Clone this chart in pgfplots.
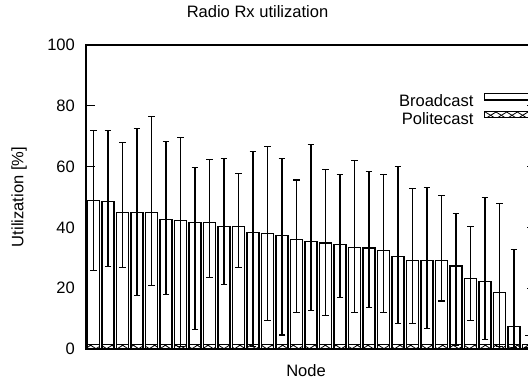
\documentclass[border=0pt]{standalone}
\usepackage{fontspec}
\setmainfont{Liberation Sans}
\usepackage{pgfplots}
\pgfplotsset{compat=1.18}
\usepackage{pgfplotstable}
\usetikzlibrary{patterns}
\newcommand\myfont{\fontsize{12.4pt}{14pt}\selectfont}
\pgfdeclarepatternformonly{diagcross}{\pgfqpoint{-0.5pt}{-0.5pt}}{\pgfqpoint{8.5pt}{5.5pt}}{\pgfqpoint{8pt}{5pt}}{%
 \pgfsetlinewidth{0.6pt}%
 \pgfpathmoveto{\pgfqpoint{0pt}{0pt}}\pgfpathlineto{\pgfqpoint{8pt}{5pt}}%
 \pgfpathmoveto{\pgfqpoint{0pt}{5pt}}\pgfpathlineto{\pgfqpoint{8pt}{0pt}}%
 \pgfusepath{stroke}}

\pgfplotstableread{
x y ep em
1 48.9 22.9 23.0
2 48.5 23.3 21.5
3 45.0 22.8 18.3
4 44.8 27.8 27.3
5 44.8 31.6 23.8
6 42.6 25.7 24.6
7 42.3 27.3 41.5
8 41.7 17.9 35.3
9 41.5 20.7 18.1
10 40.4 22.4 19.3
11 40.4 17.2 13.7
12 38.3 26.6 37.5
13 37.9 28.7 28.6
14 37.4 25.3 32.8
15 36.1 19.5 24.2
16 35.4 31.8 22.6
17 34.9 24.1 24.0
18 34.4 22.9 17.5
19 33.5 28.5 21.6
20 33.2 25.3 19.5
21 32.5 24.8 20.6
22 30.3 29.7 21.9
23 29.2 23.5 20.8
24 29.0 24.2 22.4
25 29.0 21.5 13.2
26 27.3 17.2 26.3
27 23.2 17.2 13.7
28 22.3 27.4 19.3
29 18.6 29.2 17.8
30 7.3 25.4 6.8
31 1.5 3.0 1.0
}\broadcast

\pgfplotstableread{
x y
1 1.5
2 1.5
3 1.5
4 1.5
5 1.5
6 1.5
7 1.5
8 1.5
9 1.5
10 1.5
11 1.5
12 1.5
13 1.5
14 1.5
15 1.5
16 1.5
17 1.5
18 1.5
19 1.5
20 1.5
21 1.5
22 1.5
23 1.5
24 1.5
25 1.5
26 1.5
27 1.5
28 1.5
29 1.5
30 1.5
31 1.5
}\politecast

\begin{document}
\begin{tikzpicture}
\useasboundingbox (0,0) rectangle (396pt,286.5pt);
\clip (0,0) rectangle (396pt,286.5pt);
\begin{axis}[
  at={(64.69pt,24.75pt)}, anchor=south west,
  scale only axis, width=337.125pt, height=228pt,
  xmin=0.5, xmax=31.5, ymin=0, ymax=100,
  ytick={0,20,...,100}, xtick=\empty,
  tick align=inside, major tick length=6.5pt,
  tick style={line width=0.8pt, black},
  axis line style={line width=1.2pt},
  /pgf/number format/assume math mode=true,
  tick label style={font=\myfont},
  yticklabel style={xshift=-5pt},
  label style={font=\myfont},
  title style={font=\myfont, at={(axis description cs:0.381,1.084)}, anchor=center},
  title={Radio Rx utilization},
  xlabel={Node},
  xlabel style={at={(axis description cs:0.489,-0.0707)}, anchor=center},
  ylabel={Utilization [\%]},
  ylabel style={at={(axis description cs:-0.1496,0.5)}, anchor=center, rotate=0},
  legend plot pos=right,
  legend cell align=right,
  legend style={at={(axis description cs:0.9894,0.844)}, anchor=north east,
    draw=none, fill=none, font=\myfont, inner sep=0pt, row sep=0pt,
    /tikz/column sep=8pt,
    nodes={inner sep=0pt, text height=9pt, text depth=3pt}},
]
\addplot[ybar, bar width=0.83, bar shift=0pt, draw=black, fill=white, line width=0.9pt,
  error bars/.cd, y dir=both, y explicit,
  error bar style={line width=0.8pt, black},
  error mark options={rotate=90, mark size=2.6pt, line width=0.8pt, black},
  /pgfplots/legend image code/.code={\draw[fill=white,draw=black,line width=0.9pt] (0pt,2pt) rectangle (34pt,7pt);}]
  table[x=x, y=y, y error plus=ep, y error minus=em]{\broadcast};
\addlegendentry{Broadcast}
\addplot[ybar, bar width=0.83, bar shift=0pt, draw=black, pattern=diagcross, line width=0.6pt,
  legend image code/.code={\draw[pattern=diagcross,draw=black,line width=0.9pt] (0pt,2pt) rectangle (34pt,7pt);}]
  table[x=x, y=y]{\politecast};
\addlegendentry{Politecast}
\end{axis}
\end{tikzpicture}
\end{document}
